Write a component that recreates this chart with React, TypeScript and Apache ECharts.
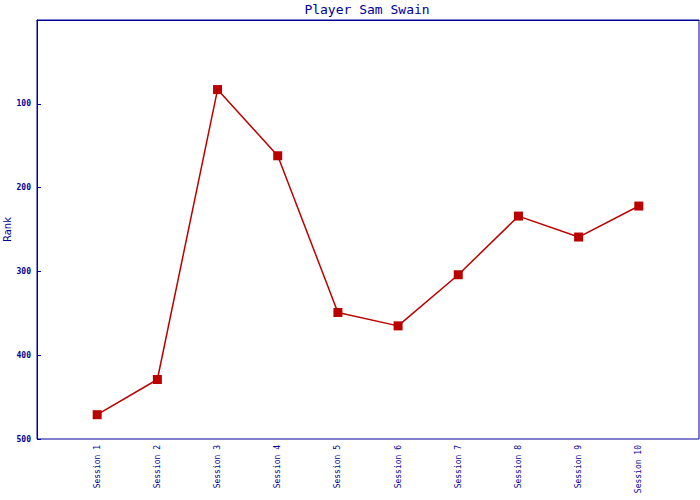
import React, { useEffect, useRef } from "react";
import * as echarts from "echarts";

const sessions = [1, 2, 3, 4, 5, 6, 7, 8, 9, 10];
const sessionLabels = sessions.map((s) => `Session ${s}`);
const ranks = [471, 429, 83, 162, 349, 365, 304, 234, 259, 222];
const yTicks = [100, 200, 300, 400, 500];

const NAVY = "#000099";
const RED = "#bb0000";

export default function App() {
  const ref = useRef<HTMLDivElement>(null);
  useEffect(() => {
    if (!ref.current) return;
    const chart = echarts.init(ref.current, undefined, { renderer: "svg" });
    chart.setOption({
      animation: false,
      backgroundColor: "#ffffff",
      title: {
        text: "Player Sam Swain",
        left: 362,
        textAlign: "center",
        top: -2,
        textStyle: {
          fontFamily: "DejaVu Sans Mono",
          fontSize: 13,
          fontWeight: "normal",
          color: NAVY,
        },
      },
      grid: {
        left: 37,
        right: 1,
        top: 20,
        bottom: 61,
        containLabel: false,
        outerBoundsMode: "none",
        show: true,
        borderColor: NAVY,
        borderWidth: 1,
        backgroundColor: "transparent",
      },
      xAxis: {
        type: "value",
        min: 0,
        max: 11,
        interval: 1,
        splitLine: { show: false },
        axisLine: { show: true, lineStyle: { color: NAVY, width: 1 } },
        axisTick: { show: false },
        axisLabel: {
          rotate: 90,
          margin: 6,
          fontFamily: "DejaVu Sans Mono",
          fontSize: 8,
          color: NAVY,
          formatter: (v: number) =>
            v >= 1 && v <= sessionLabels.length ? sessionLabels[v - 1] : "",
        },
      },
      yAxis: {
        type: "value",
        inverse: true,
        min: 0,
        max: 500,
        interval: 100,
        name: "Rank",
        nameLocation: "middle",
        nameRotate: 90,
        nameGap: 25,
        nameMoveOverlap: false,
        nameTextStyle: {
          fontFamily: "DejaVu Sans",
          fontSize: 10,
          color: NAVY,
        },
        splitLine: { show: false },
        axisLine: { show: true, lineStyle: { color: NAVY, width: 1 } },
        axisTick: { show: true, inside: true, length: 4, lineStyle: { color: NAVY, width: 1 } },
        axisLabel: {
          margin: 6,
          fontFamily: "DejaVu Sans Mono",
          fontSize: 8,
          fontWeight: "bold",
          color: NAVY,
          formatter: (v: number) => (yTicks.includes(v) ? String(v) : ""),
        },
      },
      series: [
        {
          type: "line",
          data: sessions.map((s, i) => [s, ranks[i]]),
          symbol: "rect",
          symbolSize: 9,
          showAllSymbol: true,
          lineStyle: { color: RED, width: 1.5 },
          itemStyle: { color: RED },
        },
      ],
    });
    return () => chart.dispose();
  }, []);
  return (
    <div
      ref={ref}
      style={{ position: "fixed", left: 0, top: 0, width: 700, height: 500 }}
    />
  );
}
